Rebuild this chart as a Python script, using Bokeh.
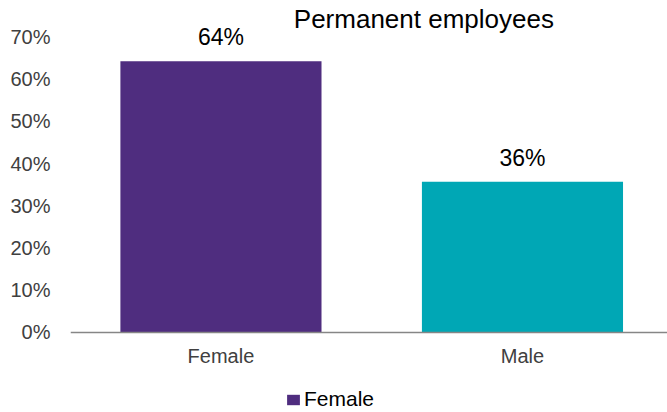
from bokeh.plotting import figure
from bokeh.models import (ColumnDataSource, FixedTicker, Legend, LegendItem, Label, LabelSet,
                          CustomJSTickFormatter, Range1d)
from bokeh.core.properties import value
from bokeh.embed import file_html
from bokeh.resources import INLINE

title = "Permanent employees"
categories = ["Female", "Male"]
values = [64.3, 35.7]
colors = ["#4F2D7F", "#00A7B5"]
value_labels = ["64%", "36%"]
yticks = [0, 10, 20, 30, 40, 50, 60, 70]

xpos = list(range(len(categories)))
src = ColumnDataSource(dict(x=xpos, cat=categories, val=values, col=colors, lab=value_labels))

p = figure(width=667, height=412, x_range=Range1d(-0.499, 1.481), y_range=Range1d(-18.96, 78.67),
           output_backend="svg", toolbar_location=None,
           min_border_left=70, min_border_right=0, min_border_top=0, min_border_bottom=0)
p.outline_line_color = None
p.xgrid.visible = False
p.ygrid.visible = False

r = p.vbar(x="x", top="val", width=0.667, fill_color="col", line_color=None, source=src)

labels = LabelSet(x="x", y="val", text="lab", source=src, text_align="center",
                  text_baseline="alphabetic", y_offset=16, text_font=value("Liberation Sans"),
                  text_font_size="23px", text_color="#000000")
p.add_layout(labels)

p.yaxis.ticker = FixedTicker(ticks=yticks)
p.yaxis.formatter = CustomJSTickFormatter(code="return tick + '%';")
p.yaxis.axis_line_color = None
p.yaxis.major_tick_line_color = None
p.yaxis.minor_tick_line_color = None
p.yaxis.major_label_text_font = "Liberation Sans"
p.yaxis.major_label_text_font_size = "20px"
p.yaxis.major_label_text_color = "#404040"
p.yaxis.major_label_standoff = 14

p.xaxis.fixed_location = 0
p.xaxis.ticker = FixedTicker(ticks=xpos)
p.xaxis.major_label_overrides = {i: c for i, c in zip(xpos, categories)}
p.xaxis.axis_line_color = "#868686"
p.xaxis.axis_line_width = 1.5
p.xaxis.major_tick_line_color = None
p.xaxis.minor_tick_line_color = None
p.xaxis.major_label_text_font = "Liberation Sans"
p.xaxis.major_label_text_font_size = "20px"
p.xaxis.major_label_text_color = "#404040"
p.xaxis.major_label_standoff = 7

legend = Legend(items=[LegendItem(label="Female", renderers=[r], index=0)],
                orientation="horizontal", location=(215, 1),
                label_text_font="Liberation Sans", label_text_font_size="21px",
                label_text_color="#000000", glyph_width=16, glyph_height=13,
                label_standoff=3, border_line_color=None, background_fill_alpha=0,
                padding=0, margin=0)
p.add_layout(legend)

t = Label(x=0.673, y=74.4, text=title, text_font="Liberation Sans", text_font_size="26px",
          text_color="#000000", text_align="center", text_baseline="alphabetic")
p.add_layout(t)

open("out.html", "w").write(file_html(p, INLINE))
